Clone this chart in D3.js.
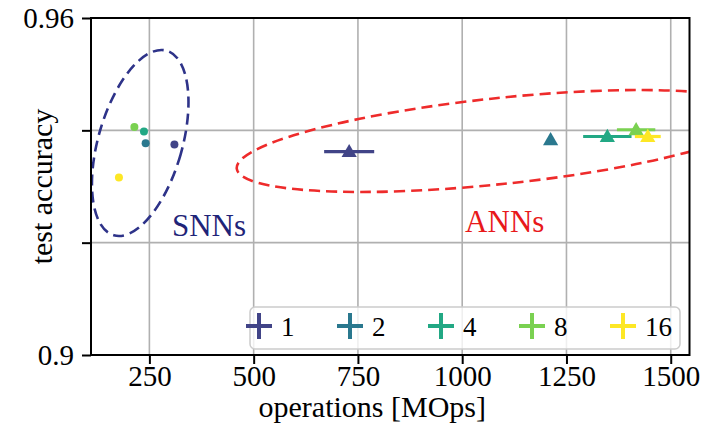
<!DOCTYPE html>
<html>
<head>
<meta charset="utf-8">
<script src="https://cdn.jsdelivr.net/npm/d3@7"></script>
<style>
  body { margin: 0; background: #fff; }
  svg { display: block; }
  text { font-family: "Liberation Serif", "Times New Roman", serif; fill: #000; }
</style>
</head>
<body>
<div id="chart"></div>
<script>
// ---- data ----
const groups      = ["1", "2", "4", "8", "16"];
const snnOps      = [310, 241, 237, 214, 177];
const snnAcc      = [0.9375, 0.9377, 0.9398, 0.9406, 0.9316];
const annOps      = [729, 1212, 1348, 1417, 1445];
const annOpsErr   = [60, 0, 58, 46, 31];
const annAcc      = [0.9362, 0.9383, 0.9389, 0.9401, 0.9389];
const xTicks      = [250, 500, 750, 1000, 1250, 1500];
const yTicks      = [0.90, 0.92, 0.94, 0.96];
const yTickLabels = ["0.9", "", "", "0.96"];

// grouping regions (centre, half-extent in ops and accuracy, tilt in degrees)
const regionNames     = ["SNNs", "ANNs"];
const regionOps       = [228, 1091];
const regionAcc       = [0.93775, 0.9381];
const regionOpsRadius = [100.7, 635];
const regionAccRadius = [0.01709, 0.00766];
const regionTilt      = [16, -6];
const regionLabelOps  = [304, 1007];
const regionLabelAcc  = [0.9212, 0.9219];

// ---- layout ----
const W = 707, H = 433;
const plot = { left: 91, right: 689.5, top: 18, bottom: 355 };
const palette = groups.map((g, i) => d3.interpolateViridis((i + 1) / groups.length));
const regionColors = ["#2e3389", "#ee2b2b"];
const regionTextColors = ["#1f2478", "#e8191b"];

const x = d3.scaleLinear().domain([110, 1545]).range([plot.left, plot.right]);
const y = d3.scaleLinear().domain([0.90, 0.96]).range([plot.bottom, plot.top]);

const svg = d3.select("#chart").append("svg").attr("width", W).attr("height", H);

svg.append("defs").append("clipPath").attr("id", "plotclip")
  .append("rect")
  .attr("x", plot.left).attr("y", plot.top)
  .attr("width", plot.right - plot.left).attr("height", plot.bottom - plot.top);

// grid
const grid = svg.append("g").attr("stroke", "#b0b0b0").attr("stroke-width", 1.6);
grid.selectAll("line.gx").data(xTicks).join("line").attr("class", "gx")
  .attr("x1", d => x(d)).attr("x2", d => x(d))
  .attr("y1", plot.top).attr("y2", plot.bottom);
grid.selectAll("line.gy").data(yTicks.slice(1, -1)).join("line").attr("class", "gy")
  .attr("x1", plot.left).attr("x2", plot.right)
  .attr("y1", d => y(d)).attr("y2", d => y(d));

// axes
const xAxis = d3.axisBottom(x).tickValues(xTicks).tickSize(9).tickPadding(1).tickFormat(d3.format("d"));
const yAxis = d3.axisLeft(y).tickValues(yTicks).tickSize(9).tickPadding(8)
  .tickFormat((d, i) => yTickLabels[i]);

const gx = svg.append("g").attr("transform", `translate(0,${plot.bottom})`).call(xAxis);
const gy = svg.append("g").attr("transform", `translate(${plot.left},0)`).call(yAxis);
[gx, gy].forEach(g => {
  g.select(".domain").remove();
  g.selectAll(".tick line").attr("stroke", "#000").attr("stroke-width", 2);
  g.selectAll(".tick text").style("font-size", "29px").attr("fill", "#000");
});

// regions (dashed ellipses)
const regions = svg.append("g").attr("clip-path", "url(#plotclip)");
regionNames.forEach((name, i) => {
  const cx = x(regionOps[i]), cy = y(regionAcc[i]);
  const rx = x(regionOpsRadius[i]) - x(0);
  const ry = y(0) - y(regionAccRadius[i]);
  regions.append("ellipse")
    .attr("cx", cx).attr("cy", cy).attr("rx", rx).attr("ry", ry)
    .attr("transform", `rotate(${regionTilt[i]},${cx},${cy})`)
    .attr("fill", "none")
    .attr("stroke", regionColors[i]).attr("stroke-width", 2.6)
    .attr("stroke-dasharray", "11,6");
});

// region labels
regionNames.forEach((name, i) => {
  svg.append("text")
    .attr("x", x(regionLabelOps[i])).attr("y", y(regionLabelAcc[i]))
    .style("font-size", "31px")
    .style("fill", regionTextColors[i])
    .text(name);
});

// SNN points
svg.append("g").selectAll("circle").data(groups).join("circle")
  .attr("cx", (d, i) => x(snnOps[i]))
  .attr("cy", (d, i) => y(snnAcc[i]))
  .attr("r", 4)
  .attr("fill", (d, i) => palette[i]);

// ANN points with horizontal error bars
const tri = d3.symbol().type(d3.symbolTriangle).size(100);
const ann = svg.append("g");
groups.forEach((g, i) => {
  const px = x(annOps[i]), py = y(annAcc[i]);
  if (annOpsErr[i] > 0) {
    ann.append("line")
      .attr("x1", x(annOps[i] - annOpsErr[i])).attr("x2", x(annOps[i] + annOpsErr[i]))
      .attr("y1", py).attr("y2", py)
      .attr("stroke", palette[i]).attr("stroke-width", 3.2);
  }
  ann.append("path")
    .attr("d", tri)
    .attr("transform", `translate(${px},${py + 1})`)
    .attr("fill", palette[i]);
});

// frame
svg.append("rect")
  .attr("x", plot.left).attr("y", plot.top)
  .attr("width", plot.right - plot.left).attr("height", plot.bottom - plot.top)
  .attr("fill", "none").attr("stroke", "#000").attr("stroke-width", 2);

// axis titles
svg.append("text")
  .attr("x", (plot.left + plot.right) / 2 - 18).attr("y", 417)
  .attr("text-anchor", "middle").style("font-size", "30px")
  .text("operations [MOps]");
svg.append("text")
  .attr("transform", `translate(52,${(plot.top + plot.bottom) / 2}) rotate(-90)`)
  .attr("text-anchor", "middle").style("font-size", "30px")
  .text("test accuracy");

// legend
const legend = svg.append("g");
const lg = { x: 250, y: 307, w: 430, h: 42 };
legend.append("rect")
  .attr("x", lg.x).attr("y", lg.y).attr("width", lg.w).attr("height", lg.h)
  .attr("rx", 5)
  .attr("fill", "#fff").attr("fill-opacity", 0.8)
  .attr("stroke", "#cccccc").attr("stroke-width", 1.5);
const step = 91;
groups.forEach((g, i) => {
  const mx = lg.x + 9 + step * i, my = lg.y + 19;
  const item = legend.append("g").attr("transform", `translate(${mx},${my})`);
  item.append("line").attr("x1", -13).attr("x2", 13).attr("y1", 0).attr("y2", 0)
    .attr("stroke", palette[i]).attr("stroke-width", 4);
  item.append("line").attr("x1", 0).attr("x2", 0).attr("y1", -13).attr("y2", 13)
    .attr("stroke", palette[i]).attr("stroke-width", 4);
  item.append("text").attr("x", 22).attr("y", 10)
    .style("font-size", "27px").text(g);
});
</script>
</body>
</html>
